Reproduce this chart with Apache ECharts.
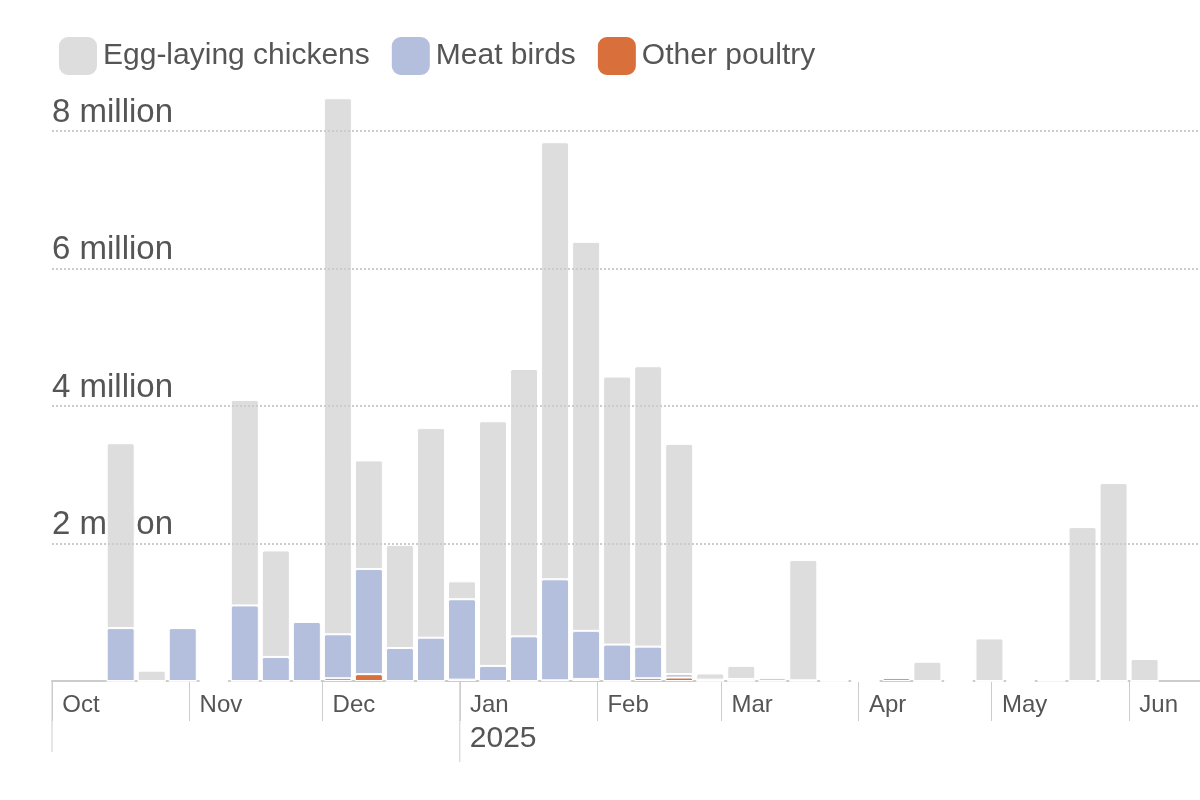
<!DOCTYPE html>
<html>
<head>
<meta charset="utf-8">
<script src="https://cdn.jsdelivr.net/npm/echarts@6/dist/echarts.min.js"></script>
<style>
  html, body { margin: 0; padding: 0; background: #fff; }
  #chart { width: 1200px; height: 800px; }
</style>
</head>
<body>
<div id="chart"></div>
<script>
// Week dates (weekly bars), values in millions of birds
const weeks = [
  "2024-10-16", "2024-10-23", "2024-10-30", "2024-11-06", "2024-11-13", "2024-11-20",
  "2024-11-27", "2024-12-04", "2024-12-11", "2024-12-18", "2024-12-25", "2025-01-01",
  "2025-01-08", "2025-01-15", "2025-01-22", "2025-01-29", "2025-02-05", "2025-02-12",
  "2025-02-19", "2025-02-26", "2025-03-05", "2025-03-12", "2025-03-19", "2025-03-26",
  "2025-04-02", "2025-04-09", "2025-04-16", "2025-04-23", "2025-04-30", "2025-05-07",
  "2025-05-14", "2025-05-21", "2025-05-28", "2025-06-04"
];
const otherPoultry = [
  0, 0, 0, 0, 0, 0, 0, 0.04, 0.1, 0, 0, 0.02,
  0, 0, 0.01, 0.03, 0, 0.04, 0.05, 0, 0, 0, 0, 0,
  0, 0.04, 0, 0, 0, 0, 0, 0, 0, 0
];
const meatBirds = [
  0.77, 0, 0.77, 0, 1.1, 0.35, 0.86, 0.64, 1.53, 0.48, 0.63, 1.17,
  0.22, 0.65, 1.47, 0.7, 0.53, 0.46, 0.05, 0.02, 0.03, 0.04, 0.01, 0.005,
  0, 0.01, 0, 0, 0, 0, 0.02, 0, 0, 0
];
const eggLaying = [
  2.69, 0.15, 0, 0, 2.99, 1.55, 0, 7.8, 1.58, 1.5, 3.05, 0.26,
  3.56, 3.89, 6.36, 5.66, 3.9, 4.08, 3.35, 0.09, 0.19, 0.02, 1.75, 0.005,
  0, 0, 0.28, 0, 0.62, 0, 0, 2.24, 2.88, 0.32
];
const gridValues = [2, 4, 6, 8];
const monthNames = ["Jan","Feb","Mar","Apr","May","Jun","Jul","Aug","Sep","Oct","Nov","Dec"];

// one category per day, Oct 1 2024 .. Jun 16 2025
const days = [];
for (let d = new Date(Date.UTC(2024, 9, 1)); d < new Date(Date.UTC(2025, 5, 17)); d.setUTCDate(d.getUTCDate() + 1)) {
  days.push(d.toISOString().slice(0, 10));
}
const isFirst = (i, v) => v.slice(8) === "01";

const pair = arr => arr.map((v, i) => [weeks[i], v]);
const textColor = "#555";
const font = "Helvetica, 'Liberation Sans', Arial, sans-serif";

const chart = echarts.init(document.getElementById("chart"));
const barBase = { type: "bar", stack: "birds", barWidth: 28,
  itemStyle: { borderColor: "#fff", borderWidth: 1, borderRadius: [2, 2, 0, 0] } };

chart.setOption({
  animation: false,
  textStyle: { fontFamily: font },
  legend: {
    left: 52, top: 30, itemWidth: 40, itemHeight: 40, itemGap: 20,
    textStyle: { fontSize: 30, color: textColor, fontFamily: font },
    data: ["Egg-laying chickens", "Meat birds", "Other poultry"],
    icon: "roundRect"
  },
  grid: { left: 52, right: 0, top: 90, bottom: 119 },
  xAxis: {
    type: "category",
    data: days,
    axisLine: { lineStyle: { color: "#ccc", width: 2 } },
    axisTick: { show: true, length: 40, interval: isFirst, lineStyle: { color: "#ccc" } },
    splitLine: { show: false },
    axisLabel: {
      color: textColor, fontSize: 24, align: "left", padding: [0, 0, 0, 8], margin: 12,
      interval: isFirst,
      formatter: v => monthNames[+v.slice(5, 7) - 1]
    }
  },
  yAxis: {
    type: "value", min: 0, max: 8.6, interval: 2,
    axisLine: { show: false }, axisTick: { show: false },
    splitLine: { show: false },
    axisLabel: {
      inside: true, color: textColor, fontSize: 33, verticalAlign: "bottom",
      margin: 0, padding: [0, 0, 2, 0],
      formatter: v => (v === 0 || v % 2 !== 0 ? "" : v + " million")
    }
  },
  series: [
    { ...barBase, name: "Other poultry", data: pair(otherPoultry),
      itemStyle: { ...barBase.itemStyle, color: "#d9703c" },
      markLine: { silent: true, symbol: "none", label: { show: false },
        lineStyle: { color: "#ccc", type: "dotted", width: 2 },
        data: gridValues.map(v => ({ yAxis: v })) } },
    { ...barBase, name: "Meat birds", data: pair(meatBirds),
      itemStyle: { ...barBase.itemStyle, color: "#b3bfdc" } },
    { ...barBase, name: "Egg-laying chickens", data: pair(eggLaying),
      itemStyle: { ...barBase.itemStyle, color: "#dddddd" } }
  ]
});

// year marker below January
const jx = chart.convertToPixel({ xAxisIndex: 0 }, "2025-01-01") - 2.2;
chart.setOption({
  graphic: [
    { type: "line", shape: { x1: jx, y1: 681, x2: jx, y2: 762 }, style: { stroke: "#ccc", lineWidth: 1 } },
    { type: "line", shape: { x1: 52, y1: 681, x2: 52, y2: 752 }, style: { stroke: "#ccc", lineWidth: 1 } },
    { type: "text", left: jx + 10, top: 724, style: { text: "2025", fontSize: 30, fill: textColor, fontFamily: font } }
  ]
});
</script>
</body>
</html>
